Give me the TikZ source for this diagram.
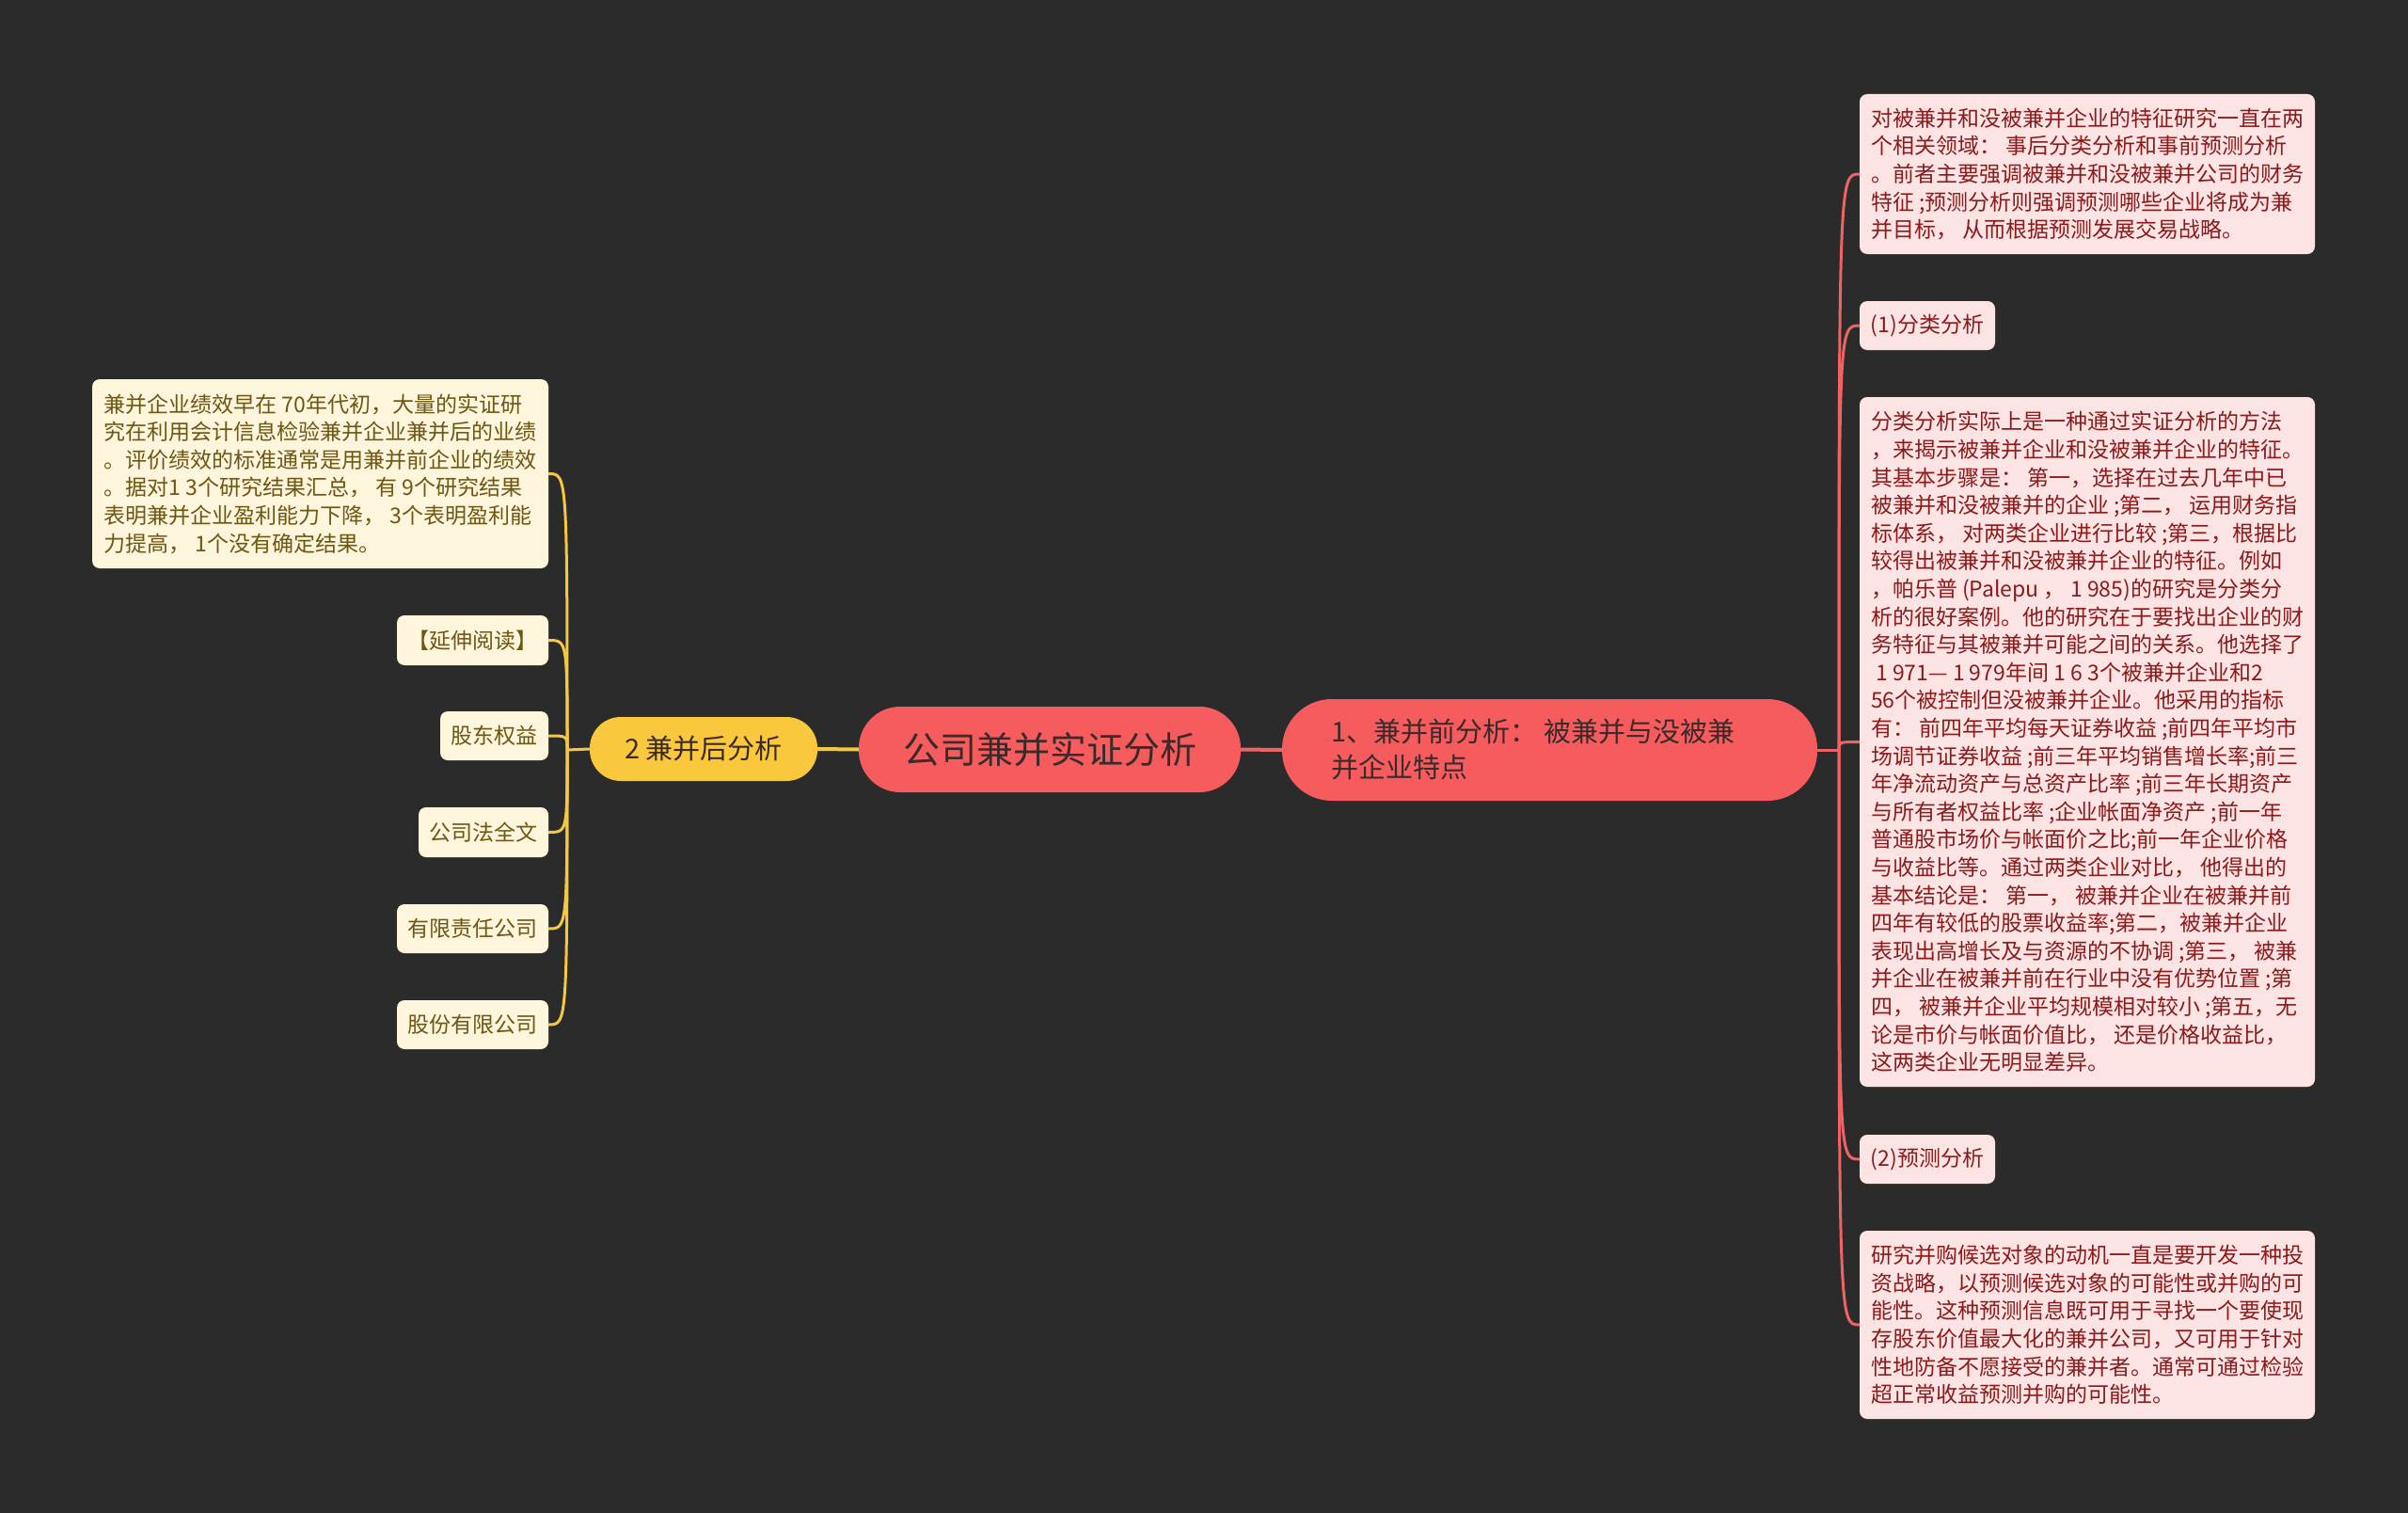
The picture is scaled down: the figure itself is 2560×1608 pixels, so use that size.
\documentclass[tikz,border=0pt]{standalone}
\usepackage{fontspec}
\setmainfont{Noto Sans CJK SC}
\definecolor{bgc}{HTML}{2B2B2B}
\definecolor{redfill}{HTML}{F65C5E}
\definecolor{redline}{HTML}{EE6466}
\definecolor{pinkfill}{HTML}{FDE4E4}
\definecolor{pinktext}{HTML}{8B1A1A}
\definecolor{yelfill}{HTML}{F9C83C}
\definecolor{yelline}{HTML}{F5C842}
\definecolor{creamfill}{HTML}{FDF5DC}
\definecolor{creamtext}{HTML}{6E5613}
\definecolor{darktext}{HTML}{3A2A2A}
\begin{document}
\begin{tikzpicture}[x=1pt,y=-1pt,
  pinkbox/.style={fill=pinkfill, text=pinktext, rounded corners=8pt, inner sep=0pt, align=left, font=\fontsize{23}{29.6}\selectfont},
  creambox/.style={fill=creamfill, text=creamtext, rounded corners=8pt, inner sep=0pt, align=left, font=\fontsize{23}{29.6}\selectfont},
  redcon/.style={draw=redline, line width=3pt},
  yelcon/.style={draw=yelline, line width=3pt}]
\fill[bgc] (0,0) rectangle (2560,1608);
\useasboundingbox (0,0) rectangle (2560,1608);

% central nodes
\node[fill=redfill, text=darktext, rounded corners=44pt, minimum width=406pt, minimum height=91pt, inner sep=0pt, font=\fontsize{39}{46}\selectfont] (root) at (1116,796.5) {公司兼并实证分析};
\node[fill=redfill, text=darktext, rounded corners=53pt, minimum width=569pt, minimum height=108pt, inner sep=0pt, align=left, font=\fontsize{29}{38}\selectfont] (b1) at (1647.5,797) {1、兼并前分析： 被兼并与没被兼\\并企业特点\hspace*{11em}};
\node[fill=yelfill, text=darktext, rounded corners=33pt, minimum width=242pt, minimum height=68pt, inner sep=0pt, font=\fontsize{29}{36}\selectfont] (b2) at (748,796) {2 兼并后分析};

% right boxes
\node[pinkbox, minimum width=484pt, minimum height=170pt] (rA) at (2219,185) {对被兼并和没被兼并企业的特征研究一直在两\\个相关领域： 事后分类分析和事前预测分析\\。前者主要强调被兼并和没被兼并公司的财务\\特征 ;预测分析则强调预测哪些企业将成为兼\\并目标， 从而根据预测发展交易战略。};
\node[pinkbox, minimum width=144pt, minimum height=52pt] (r1) at (2049,346) {(1)分类分析};
\node[pinkbox, minimum width=484pt, minimum height=733pt] (rB) at (2219,788.5) {分类分析实际上是一种通过实证分析的方法\\，来揭示被兼并企业和没被兼并企业的特征。\\其基本步骤是： 第一，选择在过去几年中已\\被兼并和没被兼并的企业 ;第二， 运用财务指\\标体系， 对两类企业进行比较 ;第三，根据比\\较得出被兼并和没被兼并企业的特征。例如\\，帕乐普 (Palepu ， 1 985)的研究是分类分\\析的很好案例。他的研究在于要找出企业的财\\务特征与其被兼并可能之间的关系。他选择了\\\ 1 971— 1 979年间 1 6 3个被兼并企业和2\\56个被控制但没被兼并企业。他采用的指标\\有： 前四年平均每天证券收益 ;前四年平均市\\场调节证券收益 ;前三年平均销售增长率;前三\\年净流动资产与总资产比率 ;前三年长期资产\\与所有者权益比率 ;企业帐面净资产 ;前一年\\普通股市场价与帐面价之比;前一年企业价格\\与收益比等。通过两类企业对比， 他得出的\\基本结论是： 第一， 被兼并企业在被兼并前\\四年有较低的股票收益率;第二，被兼并企业\\表现出高增长及与资源的不协调 ;第三， 被兼\\并企业在被兼并前在行业中没有优势位置 ;第\\四， 被兼并企业平均规模相对较小 ;第五，无\\论是市价与帐面价值比， 还是价格收益比，\\这两类企业无明显差异。};
\node[pinkbox, minimum width=144pt, minimum height=52pt] (r2) at (2049,1232) {(2)预测分析};
\node[pinkbox, minimum width=484pt, minimum height=200pt] (rC) at (2219,1408) {研究并购候选对象的动机一直是要开发一种投\\资战略，以预测候选对象的可能性或并购的可\\能性。这种预测信息既可用于寻找一个要使现\\存股东价值最大化的兼并公司，又可用于针对\\性地防备不愿接受的兼并者。通常可通过检验\\超正常收益预测并购的可能性。};

% left boxes
\node[creambox, minimum width=485pt, minimum height=201pt] (lT) at (340.5,503.5) {兼并企业绩效早在 70年代初，大量的实证研\\究在利用会计信息检验兼并企业兼并后的业绩\\。评价绩效的标准通常是用兼并前企业的绩效\\。据对1 3个研究结果汇总， 有 9个研究结果\\表明兼并企业盈利能力下降， 3个表明盈利能\\力提高， 1个没有确定结果。};
\node[creambox, minimum width=161pt, minimum height=53pt] (l1) at (502.5,680.5) {【延伸阅读】};
\node[creambox, minimum width=115pt, minimum height=52pt] (l2) at (525.5,782) {股东权益};
\node[creambox, minimum width=138pt, minimum height=53pt] (l3) at (514,884.5) {公司法全文};
\node[creambox, minimum width=161pt, minimum height=52pt] (l4) at (502.5,987) {有限责任公司};
\node[creambox, minimum width=161pt, minimum height=52pt] (l5) at (502.5,1089) {股份有限公司};

% junctions
\coordinate (rs) at (1955,797);
\coordinate (ls) at (603,797);

% connectors
\draw[draw=redline, line width=4pt] (root.east) -- (b1.west);
\draw[draw=yelline, line width=4pt] (b2.east) -- (root.west);
\draw[redcon] (b1.east) -- (rs);
\draw[yelcon] (b2.west) -- (ls);
\foreach \n/\yy in {rA/185, r1/346, rB/788.5, r2/1232, rC/1408}{
  \draw[redcon] (rs) .. controls (1955,\yy) and (1955,\yy) .. (\n.west);
}
\foreach \n/\yy in {lT/503.5, l1/680.5, l2/782, l3/884.5, l4/987, l5/1089}{
  \draw[yelcon] (ls) .. controls (603,\yy) and (603,\yy) .. (\n.east);
}
\end{tikzpicture}
\end{document}
